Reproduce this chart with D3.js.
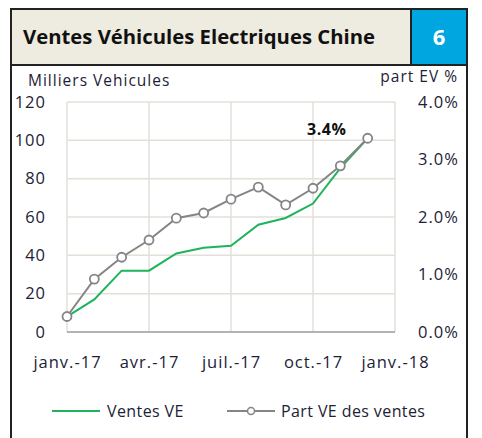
<!DOCTYPE html>
<html>
<head>
<meta charset="utf-8">
<script src="https://cdn.jsdelivr.net/npm/d3@7"></script>
<style>
  body { margin: 0; background: #fff; }
  svg text { font-family: "Open Sans", "Noto Sans", sans-serif; }
</style>
</head>
<body>
<div id="chart"></div>
<script>
  'use strict';

  // data
  var months = ['janv.-17', 'févr.-17', 'mars-17', 'avr.-17', 'mai-17', 'juin-17',
    'juil.-17', 'août-17', 'sept.-17', 'oct.-17', 'nov.-17', 'déc.-17'];
  var ventesVE = [8, 17, 32, 32, 41, 44, 45, 56, 59.5, 67, 85.5, 101];
  var partVE = [0.27, 0.92, 1.30, 1.60, 1.98, 2.07, 2.31, 2.52, 2.21, 2.50, 2.89, 3.37];
  var xTickLabels = ['janv.-17', 'avr.-17', 'juil.-17', 'oct.-17', 'janv.-18'];
  var xTickIndex = [0, 3, 6, 9, 12];
  var leftTicks = [0, 20, 40, 60, 80, 100, 120];
  var rightTicks = [0, 1, 2, 3, 4];

  var svgWidth = 482,
    svgHeight = 438,
    plot = { left: 67, right: 395, top: 102, bottom: 332 };

  var green = '#1fb35b',
    gray = '#858585',
    textColor = '#1c2236',
    gridColor = '#e3e0d8';

  var svg = d3.select('#chart')
    .append('svg')
    .attr('width', svgWidth)
    .attr('height', svgHeight);

  // frame + title bar
  svg.append('rect')
    .attr('x', 11).attr('y', 9)
    .attr('width', 456).attr('height', 460)
    .attr('fill', '#fff')
    .attr('stroke', '#222').attr('stroke-width', 2);

  svg.append('rect')
    .attr('x', 11).attr('y', 9)
    .attr('width', 400).attr('height', 56)
    .attr('fill', '#eeebe0')
    .attr('stroke', '#222').attr('stroke-width', 2);

  svg.append('rect')
    .attr('x', 411).attr('y', 9)
    .attr('width', 56).attr('height', 56)
    .attr('fill', '#00a6e0')
    .attr('stroke', '#222').attr('stroke-width', 2);

  svg.append('text')
    .attr('x', 23).attr('y', 44)
    .attr('font-size', 20).attr('font-weight', 'bold')
    .attr('fill', '#111')
    .attr('textLength', 352).attr('lengthAdjust', 'spacingAndGlyphs')
    .text('Ventes Véhicules Electriques Chine');

  svg.append('text')
    .attr('x', 439).attr('y', 45)
    .attr('text-anchor', 'middle')
    .attr('font-size', 22).attr('font-weight', 'bold')
    .attr('fill', '#fff')
    .text('6');

  // scales
  var x = d3.scaleLinear().domain([0, 12]).range([plot.left, plot.right]);
  var yL = d3.scaleLinear().domain([0, 120]).range([plot.bottom, plot.top]);
  var yR = d3.scaleLinear().domain([0, 4]).range([plot.bottom, plot.top]);

  // gridlines
  var g = svg.append('g');
  g.selectAll('line.h')
    .data(leftTicks.slice(1))
    .enter().append('line')
    .attr('x1', plot.left).attr('x2', plot.right)
    .attr('y1', yL).attr('y2', yL)
    .attr('stroke', gridColor).attr('stroke-width', 1.5);

  g.selectAll('line.v')
    .data(xTickIndex)
    .enter().append('line')
    .attr('x1', x).attr('x2', x)
    .attr('y1', plot.top).attr('y2', plot.bottom)
    .attr('stroke', gridColor).attr('stroke-width', 1.5);

  g.append('line')
    .attr('x1', plot.left).attr('x2', plot.right)
    .attr('y1', plot.bottom).attr('y2', plot.bottom)
    .attr('stroke', '#9a9a9a').attr('stroke-width', 1.5);

  // axes (labels only)
  var axisL = svg.append('g')
    .attr('transform', 'translate(' + (plot.left - 21) + ',0)')
    .call(d3.axisLeft(yL).tickValues(leftTicks).tickSize(0).tickPadding(0));
  var axisR = svg.append('g')
    .attr('transform', 'translate(' + (plot.right + 23) + ',0)')
    .call(d3.axisRight(yR).tickValues(rightTicks).tickSize(0).tickPadding(0)
      .tickFormat(function(d) { return d.toFixed(1) + '%'; }));
  var axisB = svg.append('g')
    .attr('transform', 'translate(0,' + (plot.bottom + 24) + ')')
    .call(d3.axisBottom(x).tickValues(xTickIndex).tickSize(0).tickPadding(0)
      .tickFormat(function(d, i) { return xTickLabels[i]; }));

  [axisL, axisR, axisB].forEach(function(a) {
    a.select('.domain').remove();
    a.selectAll('text')
      .attr('font-family', '"Open Sans", "Noto Sans", sans-serif')
      .attr('font-size', 16.5)
      .attr('letter-spacing', 1)
      .attr('fill', textColor);
  });
  axisB.selectAll('text').attr('dy', '0.71em');

  svg.append('text')
    .attr('x', 28).attr('y', 86)
    .attr('font-size', 15.5).attr('letter-spacing', 1)
    .attr('fill', textColor)
    .text('Milliers Vehicules');

  svg.append('text')
    .attr('x', 458).attr('y', 82)
    .attr('text-anchor', 'end')
    .attr('font-size', 15.5).attr('letter-spacing', 1)
    .attr('fill', textColor)
    .text('part EV %');

  // lines
  var lineL = d3.line()
    .x(function(d, i) { return x(i); })
    .y(function(d) { return yL(d); });
  var lineR = d3.line()
    .x(function(d, i) { return x(i); })
    .y(function(d) { return yR(d); });

  svg.append('path')
    .datum(ventesVE)
    .attr('d', lineL)
    .attr('fill', 'none')
    .attr('stroke', green).attr('stroke-width', 2);

  svg.append('path')
    .datum(partVE)
    .attr('d', lineR)
    .attr('fill', 'none')
    .attr('stroke', gray).attr('stroke-width', 2);

  svg.selectAll('circle.pt')
    .data(partVE)
    .enter().append('circle')
    .attr('cx', function(d, i) { return x(i); })
    .attr('cy', yR)
    .attr('r', 4.5)
    .attr('fill', '#fff')
    .attr('stroke', gray).attr('stroke-width', 1.8);

  // last value label
  var last = partVE.length - 1;
  svg.append('text')
    .attr('x', x(last) - 41).attr('y', yR(partVE[last]) - 3)
    .attr('text-anchor', 'middle')
    .attr('font-size', 16).attr('font-weight', 'bold')
    .attr('letter-spacing', 0.5)
    .attr('fill', '#111')
    .text(partVE[last].toFixed(1) + '%');

  // legend
  var leg = svg.append('g').attr('transform', 'translate(0,411)');
  leg.append('line')
    .attr('x1', 52).attr('x2', 100).attr('y1', 0).attr('y2', 0)
    .attr('stroke', green).attr('stroke-width', 2);
  leg.append('text')
    .attr('x', 107).attr('y', 6)
    .attr('font-size', 16).attr('letter-spacing', 0.4)
    .attr('fill', textColor)
    .text('Ventes VE');
  leg.append('line')
    .attr('x1', 227).attr('x2', 275).attr('y1', 0).attr('y2', 0)
    .attr('stroke', gray).attr('stroke-width', 2);
  leg.append('circle')
    .attr('cx', 251).attr('cy', 0).attr('r', 3.5)
    .attr('fill', '#fff').attr('stroke', gray).attr('stroke-width', 1.5);
  leg.append('text')
    .attr('x', 281).attr('y', 6)
    .attr('font-size', 16).attr('letter-spacing', 0.4)
    .attr('fill', textColor)
    .text('Part VE des ventes');
</script>
</body>
</html>
